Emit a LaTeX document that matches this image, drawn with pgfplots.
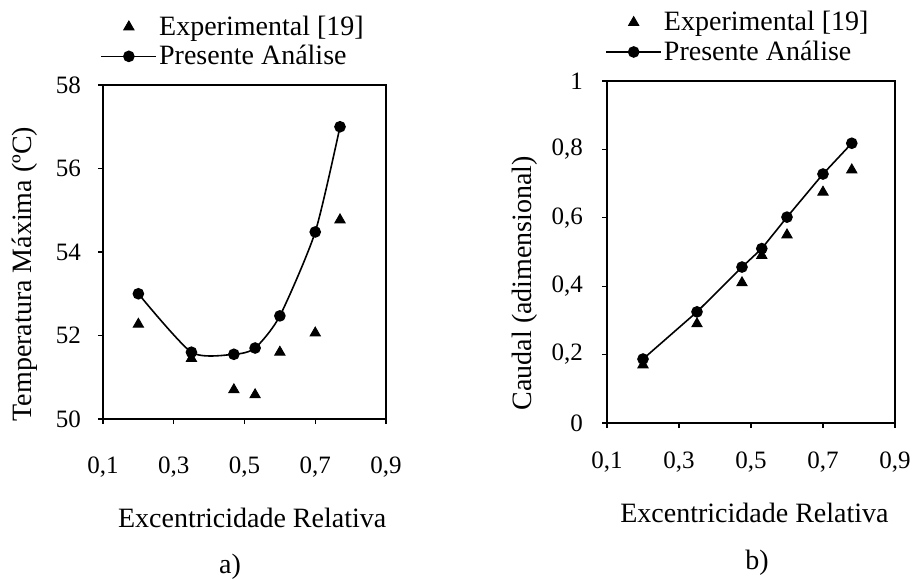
\documentclass[border=0pt]{standalone}
\usepackage{pgfplots}
\pgfplotsset{compat=1.18}
\usepackage{fontspec}
\setmainfont{Liberation Serif}
\begin{document}
\begin{tikzpicture}
\path[use as bounding box] (0,0) rectangle (458.5pt,289.5pt);
\pgfplotsset{
  myaxis/.style={
    scale only axis,
    clip mode=individual,
    axis line style={line width=0.9pt},
    tick align=outside,
    major tick length=2.5pt,
    tick style={line width=0.6pt, black},
    xtick pos=bottom, ytick pos=left,
    xmin=0.1, xmax=0.9,
    xtick={0.1,0.3,0.5,0.7,0.9},
    /pgf/number format/assume math mode=true,
    xticklabel style={/pgf/number format/fixed, /pgf/number format/fixed zerofill, /pgf/number format/precision=1, /pgf/number format/use comma},
    yticklabel style={/pgf/number format/fixed, /pgf/number format/precision=1, /pgf/number format/use comma},
    tick label style={font=\fontsize{12.5}{14}\selectfont},
    label style={font=\fontsize{14}{16}\selectfont},
    legend style={draw=none, fill=none, anchor=south west, inner sep=0pt,
      font=\fontsize{14}{15}\selectfont, row sep=1.5pt, nodes={inner sep=1pt}},
    legend cell align=left,
  },
  expstyle/.style={only marks, mark=triangle*, mark size=3pt, black,
    legend image code/.code={\draw[##1] plot coordinates {(13.75pt,0pt)};}},
  presstyle/.style={black, line width=0.8pt, mark=*, mark size=2.5pt,
    legend image code/.code={\draw[mark repeat=2,mark phase=2,##1] plot coordinates {(0pt,0pt)(13.75pt,0pt)(27.5pt,0pt)};}},
}
\begin{axis}[myaxis,
  at={(51.5pt,80pt)}, anchor=south west,
  width=141.5pt, height=167pt,
  ymin=50, ymax=58, ytick={50,52,54,56,58},
  xticklabel style={yshift=-13pt},
  yticklabel style={xshift=-5pt},
  xlabel={Excentricidade Relativa},
  ylabel={Temperatura Máxima (ºC)},
  x label style={at={(axis description cs:0.527,-0.296)}, anchor=center},
  y label style={at={(axis description cs:-0.276,0.434)}, anchor=center},
  legend style={at={(axis description cs:-0.01,1.045)}},
]
\addplot[expstyle] coordinates {(0.2,52.27)(0.35,51.45)(0.47,50.7)(0.53,50.58)(0.6,51.6)(0.7,52.06)(0.77,54.77)};
\addlegendentry{Experimental [19]}
\addplot[presstyle, smooth, tension=0.4] coordinates {(0.2,53.0)(0.35,51.6)(0.47,51.55)(0.53,51.7)(0.6,52.47)(0.7,54.48)(0.77,57.0)};
\addlegendentry{Presente Análise}
\node[font=\fontsize{14}{16}\selectfont] at (axis description cs:0.449,-0.443) {a)};
\end{axis}
\begin{axis}[myaxis,
  at={(303.5pt,78pt)}, anchor=south west,
  width=144pt, height=171pt,
  ymin=0, ymax=1, ytick={0,0.2,0.4,0.6,0.8,1},
  xticklabel style={yshift=-8.5pt},
  yticklabel style={xshift=-6pt},
  xlabel={Excentricidade Relativa},
  ylabel={Caudal (adimensional)},
  x label style={at={(axis description cs:0.512,-0.263)}, anchor=center},
  y label style={at={(axis description cs:-0.285,0.409)}, anchor=center},
  legend style={at={(axis description cs:-0.007,1.045)}},
]
\addplot[expstyle] coordinates {(0.2,0.17)(0.35,0.29)(0.475,0.41)(0.53,0.49)(0.6,0.55)(0.7,0.675)(0.78,0.74)};
\addlegendentry{Experimental [19]}
\addplot[presstyle] coordinates {(0.2,0.187)(0.35,0.325)(0.475,0.456)(0.53,0.51)(0.6,0.602)(0.7,0.728)(0.78,0.818)};
\addlegendentry{Presente Análise}
\node[font=\fontsize{14}{16}\selectfont] at (axis description cs:0.521,-0.409) {b)};
\end{axis}
\end{tikzpicture}
\end{document}
